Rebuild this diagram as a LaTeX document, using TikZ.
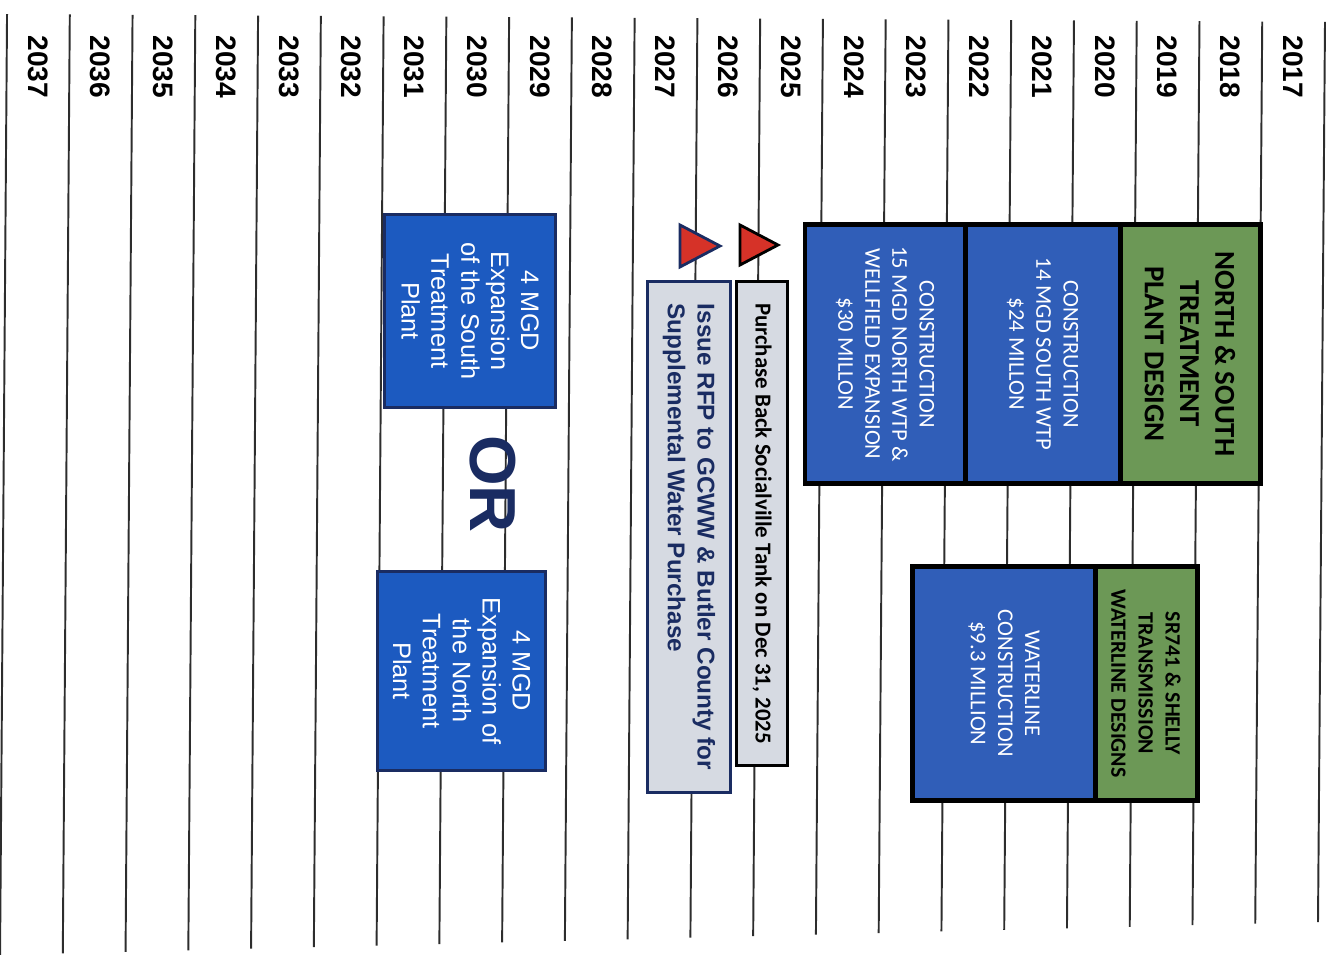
\documentclass[tikz,border=0pt]{standalone}
\usepackage{fontspec}
\setmainfont{Carlito}
\newfontfamily\arialfont{Liberation Sans}
\usepackage{tikz}
\usetikzlibrary{positioning}
\definecolor{buildblue}{RGB}{48,94,184}
\definecolor{expblue}{RGB}{28,90,192}
\definecolor{designgreen}{RGB}{108,152,86}
\definecolor{notegray}{RGB}{214,218,226}
\definecolor{navy}{RGB}{26,44,98}
\definecolor{markred}{RGB}{214,50,40}
\definecolor{gridgray}{RGB}{45,45,45}

\begin{document}
\begin{tikzpicture}[
  x=0.01cm, y=-0.01cm,
  gridline/.style={draw=gridgray,line width=0.55pt},
  yearlabel/.style={rotate=-90,font=\arialfont\bfseries\fontsize{8}{9}\selectfont},
  phasebox/.style={draw=black,line width=1.4pt,rotate=-90,align=center,inner sep=0pt},
  designbox/.style={phasebox,fill=designgreen,font=\bfseries\fontsize{8.2}{10}\selectfont},
  buildbox/.style={phasebox,fill=buildblue,text=white,font=\fontsize{6.4}{7.7}\selectfont},
  notebox/.style={draw=black,line width=0.85pt,fill=notegray,rotate=-90,inner sep=0pt},
  expbox/.style={draw=navy,line width=0.85pt,fill=expblue,text=white,rotate=-90,align=center,inner sep=0pt,
    font=\arialfont\fontsize{7.2}{8.5}\selectfont},
  marker/.style={fill=markred,line width=0.8pt,line join=miter}
]
\useasboundingbox (0,0) rectangle (1339,962);

% year grid
\foreach \i in {0,...,21}
  \draw[gridline] ({1325-62.76*\i},{14+0.006*(1325-62.76*\i)}) -- ({1318-62.76*\i},{955-0.025*(1318-62.76*\i)});
\foreach \i [evaluate=\i as \yr using int(2017+\i)] in {0,...,20}
  \node[yearlabel] (y\yr) at ({1293-62.76*\i},67) {\yr};

% treatment plants
\node[designbox, minimum width=2.58cm, minimum height=1.40cm] (nsdesign) at (1190,354)
  {NORTH \& SOUTH\\TREATMENT\\PLANT DESIGN};
\node[buildbox, minimum width=2.58cm, minimum height=1.55cm] (southwtp) at (1042.5,354)
  {CONSTRUCTION\\14 MGD SOUTH WTP\\\$24 MILLON};
\node[buildbox, minimum width=2.58cm, minimum height=1.60cm] (northwtp) at (885,354)
  {CONSTRUCTION\\15 MGD NORTH WTP \&\\WELLFIELD EXPANSION\\\$30 MILLON};

% waterline
\node[designbox, font=\bfseries\fontsize{6.2}{7.7}\selectfont, minimum width=2.33cm, minimum height=1.02cm] (srdesign) at (1146,683.5)
  {SR741 \& SHELLY\\TRANSMISSION\\WATERLINE DESIGNS};
\node[buildbox, minimum width=2.33cm, minimum height=1.82cm] (wlconst) at (1004,683.5)
  {WATERLINE\\CONSTRUCTION\\\$9.3 MILLION};

% milestones
\draw[marker, draw=black] (740,225) -- (740,265) -- (778,245) -- cycle;
\draw[marker, draw=navy] (680,225) -- (680,267) -- (720,246) -- cycle;
\node[notebox, minimum width=4.83cm, minimum height=0.50cm, font=\bfseries\fontsize{6.5}{8}\selectfont] (tank) at (762,523.5)
  {Purchase Back Socialville Tank on Dec 31, 2025};
\node[notebox, draw=navy, text=navy, align=left, minimum width=5.10cm, minimum height=0.82cm,
  font=\arialfont\bfseries\fontsize{6.9}{8.5}\selectfont] (rfp) at (689,537)
  {Issue RFP to GCWW \& Butler County for\\Supplemental Water Purchase};

% expansion options
\node[expbox, minimum width=1.92cm, minimum height=1.70cm] (southexp) at (470,311)
  {4 MGD\\Expansion\\of the South\\Treatment\\Plant};
\node[expbox, minimum width=1.98cm, minimum height=1.67cm] (northexp) at (461.5,671)
  {4 MGD\\Expansion of\\the North\\Treatment\\Plant};
\node[rotate=-90, text=navy, font=\arialfont\bfseries\fontsize{18.5}{20}\selectfont] (orlabel) at (493,484) {OR};
\end{tikzpicture}
\end{document}
